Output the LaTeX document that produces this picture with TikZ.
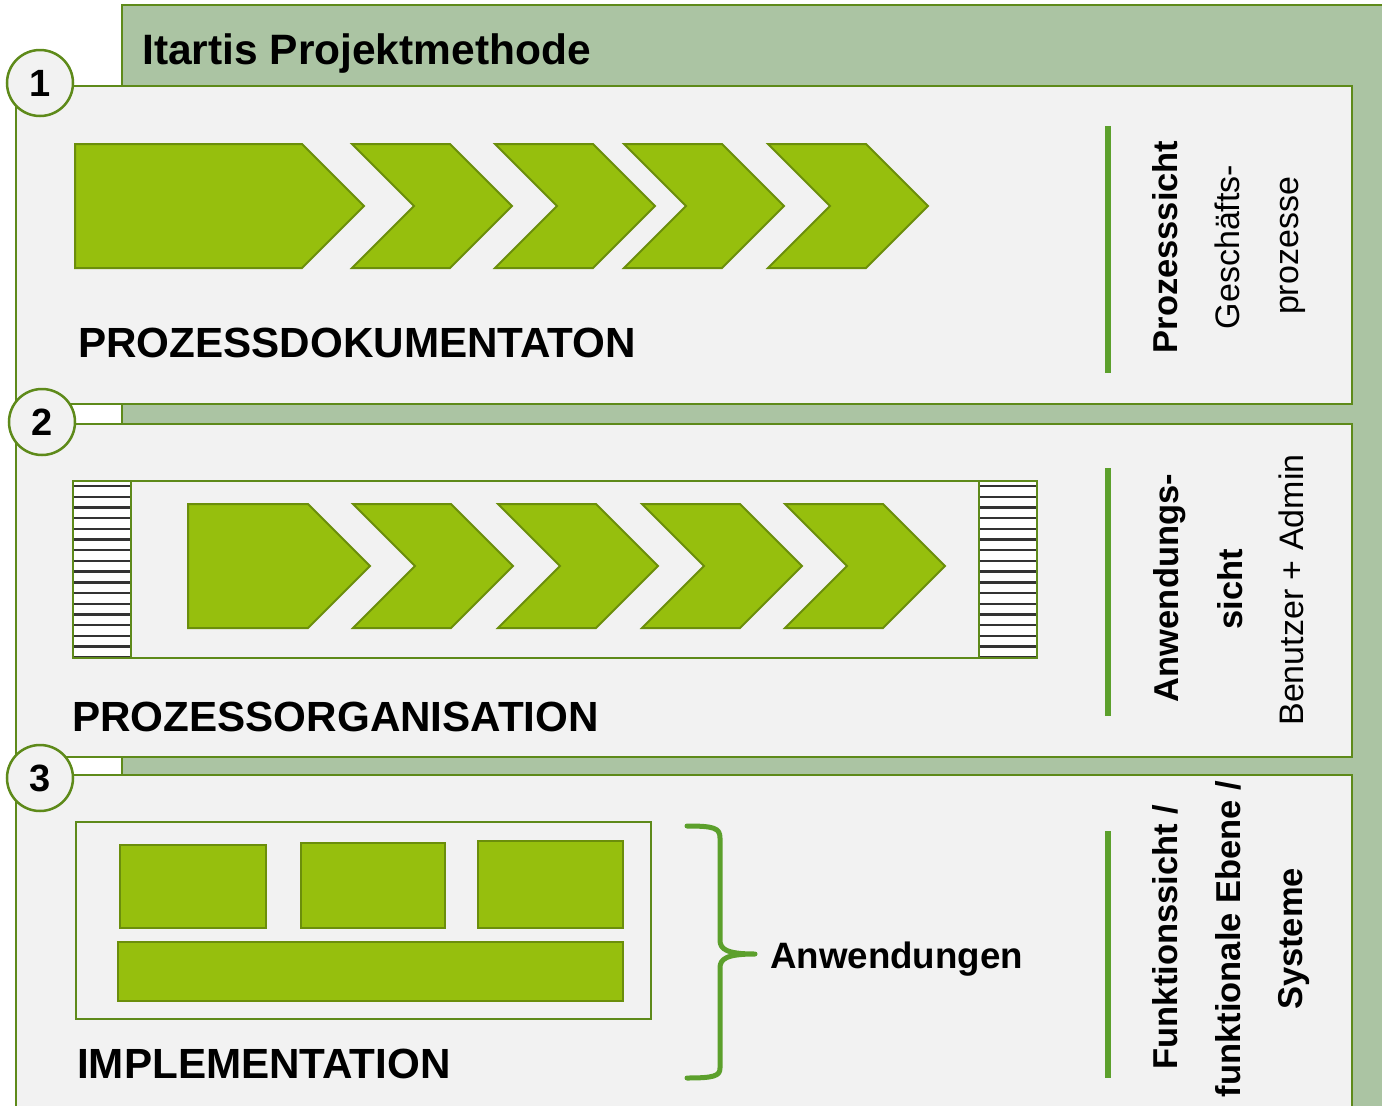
\documentclass[tikz,border=0pt]{standalone}
\usepackage{fontspec}
\setmainfont{Liberation Sans}
\definecolor{sage}{HTML}{ABC4A3}
\definecolor{panelbg}{HTML}{F2F2F2}
\definecolor{pborder}{HTML}{5E8A1A}
\definecolor{chev}{HTML}{96BF0D}
\definecolor{chevb}{HTML}{6B8E0B}
\definecolor{vline}{HTML}{5CA02C}
\newcommand\mychevron[2]{\draw[chevst] (#1,#2) -- ++(98,0) -- ++(62,62) -- ++(-62,62) -- ++(-98,0) -- ++(62,-62) -- cycle;}
\newcommand\mypenta[3]{\draw[chevst] (#1,#3) -- (#2,#3) -- ++(62,62) -- ++(-62,62) -- (#1,#3+124) -- cycle;}
\newcommand\myhatch[2]{%
  \fill[white] (#1,#2) rectangle ++(58,177);
  \foreach \i in {0,...,16} {\draw[line width=2.4pt, black!80] (#1,#2+5+\i*10.7) -- ++(58,0);}
  \draw[line width=2pt, pborder] (#1,#2) rectangle ++(58,177);}
\begin{document}
\begin{tikzpicture}[x=1pt,y=-1pt,
  chevst/.style={fill=chev, draw=chevb, line width=2pt, line join=miter},
  panel/.style={fill=panelbg, draw=pborder, line width=2.5pt},
  numcirc/.style={circle, draw=pborder, line width=2.5pt, fill=panelbg, minimum size=66pt, inner sep=0pt, font=\fontsize{38}{42}\selectfont\bfseries},
  heading/.style={anchor=base west, inner sep=0pt, font=\fontsize{42.2}{48}\selectfont\bfseries},
  vb/.style={anchor=base, rotate=90, inner sep=0pt, font=\fontsize{34.5}{40}\selectfont\bfseries},
  vr/.style={anchor=base, rotate=90, inner sep=0pt, font=\fontsize{34}{40}\selectfont},
  vbar/.style={draw=vline, line width=6pt},
  greenbox/.style={fill=chev, draw=chevb, line width=2pt},
  frame/.style={draw=pborder, line width=2pt}]
\useasboundingbox (0,0) rectangle (1382,1106);
\fill[white] (0,0) rectangle (1382,1106);
% background
\draw[fill=sage, draw=pborder, line width=2.5pt] (122,5) rectangle (1420,1140);
\node[anchor=base west, inner sep=0pt, font=\fontsize{42.5}{48}\selectfont\bfseries] (title) at (142,64) {Itartis Projektmethode};
% panels
\draw[panel] (16,86) rectangle (1352,404);
\draw[panel] (16,424) rectangle (1352,757);
\draw[panel] (16,775) rectangle (1352,1140);
% panel 1
\mypenta{75}{302}{144}
\mychevron{352}{144}
\mychevron{495}{144}
\mychevron{624}{144}
\mychevron{768}{144}
\node[heading] (h1) at (78,357) {PROZESSDOKUMENTATON};
\draw[vbar] (1108,126) -- (1108,373);
\node[vb] (p1a) at (1177,247) {Prozesssicht};
\node[vr] (p1b) at (1239,247) {Geschäfts-};
\node[vr] (p1c) at (1298,246) {prozesse};
% panel 2
\draw[frame] (73,481) rectangle (1037,658);
\myhatch{73}{481}
\myhatch{979}{481}
\mypenta{188}{308}{504}
\mychevron{353}{504}
\mychevron{498}{504}
\mychevron{642}{504}
\mychevron{785}{504}
\node[heading] (h2) at (72,731) {PROZESSORGANISATION};
\draw[vbar] (1108,468) -- (1108,716);
\node[vb] (p2a) at (1178,588) {Anwendungs-};
\node[vb] (p2b) at (1242,589) {sicht};
\node[vr] (p2c) at (1303,590) {Benutzer + Admin};
% panel 3
\draw[frame] (76,822) rectangle (651,1019);
\draw[greenbox] (120,845) rectangle (266,928);
\draw[greenbox] (301,843) rectangle (445,928);
\draw[greenbox] (478,841) rectangle (623,928);
\draw[greenbox] (118,942) rectangle (623,1001);
\node[heading] (h3) at (77,1078) {IMPLEMENTATION};
\draw[draw=vline, line width=5pt, line cap=round, line join=round]
  (687,826) .. controls (714,826) and (720,828) .. (720,838) -- (720,940)
  .. controls (720,949) and (726,954) .. (755,954)
  .. controls (726,954) and (720,959) .. (720,968) -- (720,1068)
  .. controls (720,1076) and (714,1078) .. (687,1078);
\coordinate (bracetip) at (757,954);
\node[anchor=base west, inner sep=0pt, font=\fontsize{36.7}{44}\selectfont\bfseries] (anw) at (770,968) {Anwendungen};
\draw[vbar] (1108,831) -- (1108,1078);
\node[vb] (p3a) at (1177,937) {Funktionssicht /};
\node[vb] (p3b) at (1240,939) {funktionale Ebene /};
\node[vb] (p3c) at (1302,939) {Systeme};
% number circles
\draw[pborder, line width=2.5pt] (16,107) -- (16,1140);
\node[numcirc] (c1) at (40,83) {1};
\node[numcirc] (c2) at (42,422) {2};
\node[numcirc] (c3) at (40,778) {3};
\end{tikzpicture}
\end{document}
